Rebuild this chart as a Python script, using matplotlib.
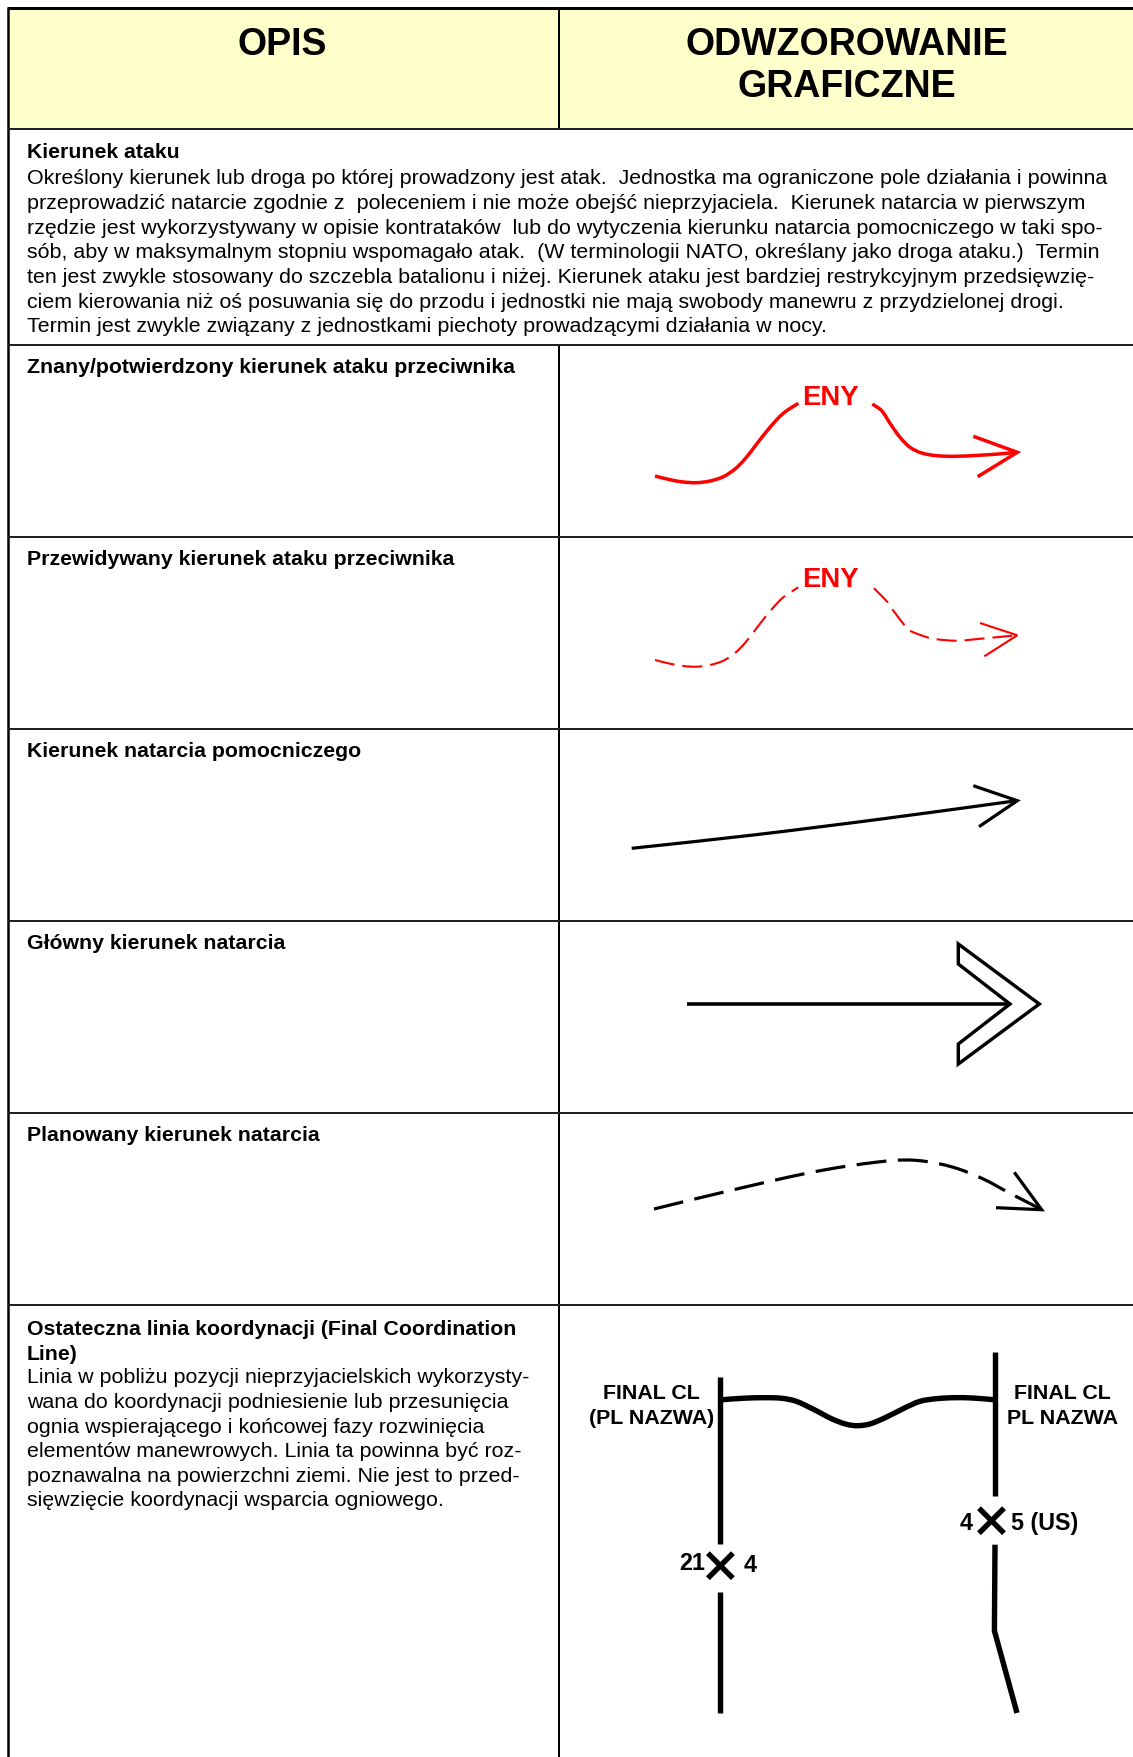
import matplotlib
matplotlib.use("Agg")
import matplotlib.pyplot as plt
from matplotlib.patches import PathPatch, Polygon, Rectangle
from matplotlib.path import Path

plt.rcParams["font.family"] = ["Liberation Sans", "DejaVu Sans"]

WIDTH = 1133
HEIGHT = 1758

HEADERS = ["OPIS", "ODWZOROWANIE\nGRAFICZNE"]

INTRO_TITLE = "Kierunek ataku"
INTRO_LINES = [
	"Określony kierunek lub droga po której prowadzony jest atak.  Jednostka ma ograniczone pole działania i powinna",
	"przeprowadzić natarcie zgodnie z  poleceniem i nie może obejść nieprzyjaciela.  Kierunek natarcia w pierwszym",
	"rzędzie jest wykorzystywany w opisie kontrataków  lub do wytyczenia kierunku natarcia pomocniczego w taki spo-",
	"sób, aby w maksymalnym stopniu wspomagało atak.  (W terminologii NATO, określany jako droga ataku.)  Termin",
	"ten jest zwykle stosowany do szczebla batalionu i niżej. Kierunek ataku jest bardziej restrykcyjnym przedsięwzię-",
	"ciem kierowania niż oś posuwania się do przodu i jednostki nie mają swobody manewru z przydzielonej drogi.",
	"Termin jest zwykle związany z jednostkami piechoty prowadzącymi działania w nocy.",
]
INTRO_BASELINES = [158.5, 183.5, 209, 234, 258, 283, 308, 332]

ROW_LINES_Y = [129.5, 345.5, 537.5, 729.5, 921.5, 1113.5, 1305.5]
ROW_TITLES = [
	"Znany/potwierdzony kierunek ataku przeciwnika",
	"Przewidywany kierunek ataku przeciwnika",
	"Kierunek natarcia pomocniczego",
	"Główny kierunek natarcia",
	"Planowany kierunek natarcia",
]
ROW_BASELINES = [373, 565, 757, 949, 1141]

FINAL_TITLE = ["Ostateczna linia koordynacji (Final Coordination", "Line)"]
FINAL_LINES = [
	"Linia w pobliżu pozycji nieprzyjacielskich wykorzysty-",
	"wana do koordynacji podniesienie lub przesunięcia",
	"ognia wspierającego i końcowej fazy rozwinięcia",
	"elementów manewrowych. Linia ta powinna być roz-",
	"poznawalna na powierzchni ziemi. Nie jest to przed-",
	"sięwzięcie koordynacji wsparcia ogniowego.",
]
FINAL_BASELINES = [1335, 1360, 1383, 1408, 1433, 1457, 1482, 1506]

# traced outlines, pixels of the reference
ENY_LEFT = [(655, 477), (670, 480.7), (683.3, 483), (696.7, 483.7), (710, 482), (723.3, 477.7), (735, 470), (745, 460), (756.7, 445), (770, 428.3), (783.3, 414.3), (798.3, 404.3)]
ENY_RIGHT = [(872.3, 405), (881.7, 411.7), (890, 424.3), (900, 438.3), (910, 448.3), (921.7, 454), (936.7, 456.7), (955, 457.3), (978.3, 456.3), (998.3, 455), (1016.7, 453.3)]
ENY_HEAD = [(973.3, 437.3), (1017.3, 453.3), (977.7, 477.7)]

PLAN_LEFT = [(655, 661), (670, 664.7), (683.3, 667), (696.7, 667.7), (710, 666), (723.3, 661.7), (735, 654), (745, 644), (756.7, 629), (770, 612.3), (783.3, 598.3), (798.3, 588.3)]
PLAN_RIGHT = [(874, 589.3), (887.7, 603.3), (892.7, 610.7), (904.3, 626), (910, 631.7), (929.3, 639), (936.7, 640.3), (956.7, 641.7), (985, 639.3), (1016.7, 636.3)]
PLAN_HEAD = [(980, 624), (1017.3, 636.3), (984.3, 657.3)]

SUPPORT_LINE = [(631.7, 849.3), (753.3, 836), (886.7, 819.3), (1016.7, 801.7)]
SUPPORT_HEAD = [(973.3, 786.7), (1017.3, 801.7), (979, 827.7)]

MAIN_LINE = [(686.7, 1005), (1010, 1005)]
MAIN_HEAD = [(958.3, 945), (1039.3, 1005), (958.3, 1065), (958.3, 1045), (1010, 1005), (958.3, 965)]

PLANNED_LINE = [(654, 1210), (736.7, 1190), (820, 1171.7), (890, 1161.7), (920, 1161.7), (953.3, 1168.3), (983.3, 1180), (1010, 1194.3), (1040.7, 1210)]
PLANNED_HEAD = [(1014.3, 1173.3), (1041.7, 1210.7), (996, 1208.7)]

FINAL_LEFT_UPPER = [(720.4, 1377.7), (720.4, 1545)]
FINAL_LEFT_LOWER = [(720.4, 1593.3), (720.4, 1714)]
FINAL_RIGHT_UPPER = [(995, 1353.3), (995, 1497.3)]
FINAL_RIGHT_LOWER = [(995, 1545.7), (994.4, 1631.7), (1017, 1714)]
FINAL_CURVE = [
	(722.6, 1400.7), (742.4, 1399.3), (763.9, 1398.7), (781.8, 1399.3), (796.2, 1402.3), (814.2, 1410.7),
	(832.1, 1420), (846.5, 1425.3), (857.3, 1426.7), (869.8, 1425), (886, 1418.3), (903.9, 1409.3),
	(920.1, 1402.3), (936.3, 1399.7), (954.2, 1398.7), (972.2, 1399), (993.7, 1400.7),
]
X_LEFT = (720.4, 1566.7)
X_RIGHT = (991.5, 1521.7)


def px(value):
	return value * 72 / 100


def dist(a, b):
	return ((a[0] - b[0]) ** 2 + (a[1] - b[1]) ** 2) ** 0.5


def smooth_path(points):
	# curve through the traced points, tangents weighted by chord length
	n = len(points)
	tangents = []
	for i in range(n):
		a = points[max(i - 1, 0)]
		b = points[min(i + 1, n - 1)]
		d = dist(a, b)
		tangents.append(((b[0] - a[0]) / d, (b[1] - a[1]) / d))
	verts = [points[0]]
	codes = [Path.MOVETO]
	for i in range(n - 1):
		p1, p2 = points[i], points[i + 1]
		s = dist(p1, p2) / 3
		verts.append((p1[0] + tangents[i][0] * s, p1[1] + tangents[i][1] * s))
		verts.append((p2[0] - tangents[i + 1][0] * s, p2[1] - tangents[i + 1][1] * s))
		verts.append(p2)
		codes += [Path.CURVE4] * 3
	return Path(verts, codes)


def curve(ax, points, color="black", width=3, dash=None):
	style = "solid" if dash is None else (0, (dash[0] / width, dash[1] / width))
	ax.add_patch(PathPatch(
		smooth_path(points), fill=False, edgecolor=color, linewidth=px(width),
		linestyle=style, capstyle="butt", joinstyle="round",
	))


def polyline(ax, points, color="black", width=3, capstyle="butt", joinstyle="miter"):
	ax.plot(
		[p[0] for p in points], [p[1] for p in points], color=color, linewidth=px(width),
		solid_capstyle=capstyle, solid_joinstyle=joinstyle,
	)


def label(ax, x, y, text, size=15.4, weight="normal", color="black", ha="left"):
	ax.text(x, y, text, fontsize=size, fontweight=weight, color=color, ha=ha, va="baseline")


fig = plt.figure(figsize=(WIDTH / 100, HEIGHT / 100), dpi=100)
ax = fig.add_axes([0, 0, 1, 1])
ax.set_xlim(0, WIDTH)
ax.set_ylim(HEIGHT, 0)
ax.axis("off")

# table
ax.add_patch(Rectangle((8, 9), WIDTH - 8, 120, facecolor="#ffffcc", edgecolor="none"))
polyline(ax, [(6.5, 9), (WIDTH, 9)], width=3)
polyline(ax, [(7.5, 9), (7.5, HEIGHT)], width=2.5)
polyline(ax, [(559, 9), (559, 129)], width=2)
polyline(ax, [(559, 345), (559, HEIGHT)], width=2)
for y in ROW_LINES_Y:
	polyline(ax, [(8, y), (WIDTH, y)], color="#222222", width=2)

# header
ax.text(282, 55, HEADERS[0], fontsize=27, fontweight="bold", ha="center", va="baseline")
ax.text(847, 97, HEADERS[1], fontsize=27, fontweight="bold", ha="center", va="baseline", linespacing=1.2)

# left column text
label(ax, 27, INTRO_BASELINES[0], INTRO_TITLE, size=15.3, weight="bold")
for y, line in zip(INTRO_BASELINES[1:], INTRO_LINES):
	label(ax, 27, y, line)
for y, title in zip(ROW_BASELINES, ROW_TITLES):
	label(ax, 27, y, title, size=15.3, weight="bold")
for y, title in zip(FINAL_BASELINES[:2], FINAL_TITLE):
	label(ax, 27, y, title, size=15.3, weight="bold")
for y, line in zip(FINAL_BASELINES[2:], FINAL_LINES):
	label(ax, 27, y, line)

# enemy axis, confirmed
curve(ax, ENY_LEFT, color="red", width=3.5)
curve(ax, ENY_RIGHT, color="red", width=3.5)
polyline(ax, ENY_HEAD, color="red", width=3.5)
label(ax, 830, 405, "ENY", size=19.8, weight="bold", color="red", ha="center")

# enemy axis, expected
curve(ax, PLAN_LEFT, color="red", width=2.1, dash=(20, 8))
curve(ax, PLAN_RIGHT, color="red", width=2.1, dash=(20, 8))
polyline(ax, PLAN_HEAD, color="red", width=2.1)
label(ax, 830, 587, "ENY", size=19.8, weight="bold", color="red", ha="center")

# supporting attack
curve(ax, SUPPORT_LINE, width=3.2)
polyline(ax, SUPPORT_HEAD, width=3.2)

# main attack
polyline(ax, MAIN_LINE, width=3.6)
ax.add_patch(Polygon(MAIN_HEAD, closed=True, fill=False, edgecolor="black", linewidth=px(3.4), joinstyle="miter"))

# planned attack
curve(ax, PLANNED_LINE, width=3.2, dash=(30, 11.5))
polyline(ax, PLANNED_HEAD, width=3.2)

# final coordination line
for segment in (FINAL_LEFT_UPPER, FINAL_LEFT_LOWER, FINAL_RIGHT_UPPER, FINAL_RIGHT_LOWER):
	polyline(ax, segment, width=5.4)
curve(ax, FINAL_CURVE, width=5.4)
for cx, cy in (X_LEFT, X_RIGHT):
	polyline(ax, [(cx - 12.5, cy - 12.5), (cx + 12.5, cy + 12.5)], width=5.4)
	polyline(ax, [(cx - 12.5, cy + 12.5), (cx + 12.5, cy - 12.5)], width=5.4)

label(ax, 651.5, 1399, "FINAL CL", weight="bold", ha="center")
label(ax, 651.5, 1424.3, "(PL NAZWA)", weight="bold", ha="center")
label(ax, 1062.3, 1399, "FINAL CL", weight="bold", ha="center")
label(ax, 1062.3, 1424.3, "PL NAZWA", weight="bold", ha="center")
label(ax, 679.5, 1570, "21", size=16.8, weight="bold")
label(ax, 744, 1572.3, "4", size=16.8, weight="bold")
label(ax, 960, 1530, "4", size=16.8, weight="bold")
label(ax, 1011, 1530, "5 (US)", size=16.8, weight="bold")

fig.savefig("out.png", dpi=100)
